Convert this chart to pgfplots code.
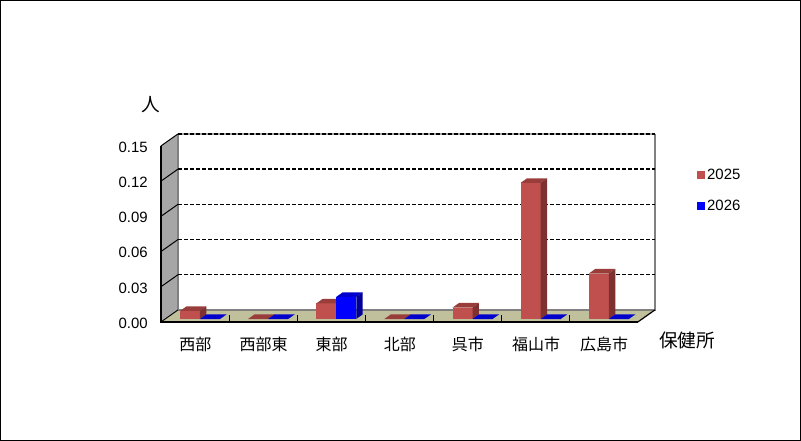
\documentclass[border=0pt]{standalone}
\usepackage{fontspec}
\setmainfont{Liberation Sans}
\newfontfamily\cjk{Noto Sans CJK JP}
\usepackage{pgfplots}
\pgfplotsset{compat=1.18}

\definecolor{redfront}{HTML}{C0504D}
\definecolor{redtop}{HTML}{993D3B}
\definecolor{redside}{HTML}{7D3130}
\definecolor{bluefront}{HTML}{0000FF}
\definecolor{bluetop}{HTML}{0000CC}
\definecolor{blueside}{HTML}{000099}
\definecolor{wallgray}{HTML}{A6A6A6}
\definecolor{floorc}{HTML}{C0C09C}

% x0, x1, value, front, top, side
\newcommand\drawbar[6]{%
  \addplot3[fill=#4,draw=none,forget plot] coordinates {(#1,0.25,0)(#2,0.25,0)(#2,0.25,#3)(#1,0.25,#3)};
  \addplot3[fill=#5,draw=none,forget plot] coordinates {(#1,0.25,#3)(#2,0.25,#3)(#2,0.63,#3)(#1,0.63,#3)};
  \addplot3[fill=#6,draw=none,forget plot] coordinates {(#2,0.25,0)(#2,0.63,0)(#2,0.63,#3)(#2,0.25,#3)};
}
\newcommand\gridz[1]{%
  \addplot3[black,line width=0.75pt,forget plot] coordinates {(0,0,#1)(0,1,#1)};
  \addplot3[black,line width=1.1pt,dash pattern=on 3pt off 1.5pt,forget plot] coordinates {(0,1,#1)(7,1,#1)};
}
\newcommand\xtickmark[1]{%
  \addplot3[black,line width=0.75pt,forget plot] coordinates {(#1,0,0)(#1,0,0.0055)};
}

\begin{document}
\begin{tikzpicture}[x=0.75pt,y=0.75pt]
\path[use as bounding box] (0,0) rectangle (801,441);
\draw[black,line width=0.75pt] (0.5,0.5) rectangle (800.5,440.5);
\begin{axis}[
  at={(120.75pt,89.3pt)},anchor=south west,
  x={(51.1pt,0pt)},y={(12.75pt,9pt)},z={(0pt,880pt)},
  xmin=0,xmax=7,ymin=0,ymax=1,zmin=0,zmax=0.15,
  clip=false,
  axis line style={draw=none},
  tick style={draw=none},
  xtick={0.5,1.5,2.5,3.5,4.5,5.5,6.5},
  xticklabels={西部,西部東,東部,北部,呉市,福山市,広島市},
  xticklabel style={font=\cjk\fontsize{12}{13}\selectfont,yshift=-7.5pt,xshift=5pt},
  ytick=\empty,
  ztick={0,0.03,0.06,0.09,0.12,0.15},
  zticklabel style={font=\fontsize{11.2}{12}\selectfont,xshift=-6.5pt,yshift=3.7pt,
    /pgf/number format/.cd,fixed,fixed zerofill,precision=2,assume math mode=true},
  scaled z ticks=false,
  xticklabel pos=lower,
  zticklabel pos=left,
  legend image code/.code={\path[#1] (0pt,-3pt) rectangle (5.5pt,3pt);},
  legend style={draw=none,fill=none,at={(1.085,0.83)},anchor=north west,
    font=\fontsize{11.2}{12}\selectfont,row sep=10pt,inner sep=0pt},
  legend cell align=left,
]
\addlegendimage{fill=redfront,draw=none}
\addlegendentry{2025}
\addlegendimage{fill=bluefront,draw=none}
\addlegendentry{2026}

% walls and floor
\addplot3[fill=wallgray,draw=none,forget plot] coordinates {(0,0,0)(0,1,0)(0,1,0.15)(0,0,0.15)};
\addplot3[fill=floorc,draw=none,forget plot] coordinates {(0,0,0)(7,0,0)(7,1,0)(0,1,0)};
\addplot3[gray,line width=0.9pt,forget plot] coordinates {(0,1,0)(7,1,0)(7,1,0.15)};
\addplot3[gray,line width=0.9pt,forget plot] coordinates {(0,1,0)(0,1,0.15)};
\addplot3[gray!70,line width=1pt,forget plot] coordinates {(0,1,0.15)(7,1,0.15)};

\gridz{0.03}
\gridz{0.06}
\gridz{0.09}
\gridz{0.12}
\gridz{0.15}

% 2025
\drawbar{0.2165}{0.51}{0.0068}{redfront}{redtop}{redside}
\drawbar{1.2165}{1.51}{0}{redfront}{redtop}{redside}
\drawbar{2.2165}{2.51}{0.0132}{redfront}{redtop}{redside}
\drawbar{3.2165}{3.51}{0}{redfront}{redtop}{redside}
\drawbar{4.2165}{4.51}{0.0097}{redfront}{redtop}{redside}
\drawbar{5.2165}{5.51}{0.116}{redfront}{redtop}{redside}
\drawbar{6.2165}{6.51}{0.0387}{redfront}{redtop}{redside}
% 2026
\drawbar{0.51}{0.8035}{0}{bluefront}{bluetop}{blueside}
\drawbar{1.51}{1.8035}{0}{bluefront}{bluetop}{blueside}
\drawbar{2.51}{2.8035}{0.0188}{bluefront}{bluetop}{blueside}
\drawbar{3.51}{3.8035}{0}{bluefront}{bluetop}{blueside}
\drawbar{4.51}{4.8035}{0}{bluefront}{bluetop}{blueside}
\drawbar{5.51}{5.8035}{0}{bluefront}{bluetop}{blueside}
\drawbar{6.51}{6.8035}{0}{bluefront}{bluetop}{blueside}

% front axes
\addplot3[black,line width=1.5pt,forget plot] coordinates {(0,0,0.15)(0,0,0)(7,0,0)};
\addplot3[black,line width=0.9pt,forget plot] coordinates {(7,0,0)(7,1,0)};
\addplot3[black,line width=0.7pt,forget plot] coordinates {(0,0,0)(0,1,0)};
\xtickmark{1}\xtickmark{2}\xtickmark{3}\xtickmark{4}\xtickmark{5}\xtickmark{6}
\end{axis}
\node[font=\cjk\fontsize{14}{15}\selectfont] at (151,336) {人};
\node[font=\cjk\fontsize{14}{15}\selectfont] at (687,101) {保健所};
\end{tikzpicture}
\end{document}
